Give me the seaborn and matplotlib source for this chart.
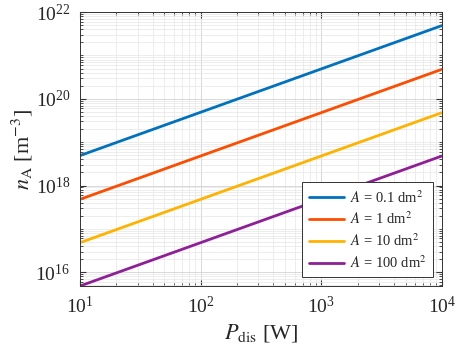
import numpy as np
import pandas as pd
import matplotlib
matplotlib.use('Agg')
import matplotlib.pyplot as plt
import seaborn as sns

# ------------------------------------------------------------ #
# data
# ------------------------------------------------------------ #

P_dis = [10, 100, 1000, 10000]
labels = ['$A$ = 0.1 dm$^2$', '$A$ = 1 dm$^2$', '$A$ = 10 dm$^2$', '$A$ = 100 dm$^2$']
n_A_01 = [4.9e18, 4.9e19, 4.9e20, 4.9e21]
n_A_1 = [4.8e17, 4.8e18, 4.8e19, 4.8e20]
n_A_10 = [4.8e16, 4.8e17, 4.8e18, 4.8e19]
n_A_100 = [4.8e15, 4.8e16, 4.8e17, 4.8e18]
colors = ['#0072BD', '#FF4D00', '#FFB300', '#8E1F96']
x_ticks = [1e1, 1e2, 1e3, 1e4]
y_ticks = [1e16, 1e18, 1e20, 1e22]

df = pd.concat([
    pd.DataFrame({'P': P_dis, 'n': vals, 'A': lab})
    for vals, lab in zip([n_A_01, n_A_1, n_A_10, n_A_100], labels)
])

# ------------------------------------------------------------ #
# plot
# ------------------------------------------------------------ #

sns.set_style('ticks')
plt.rcParams['font.family'] = ['Liberation Serif', 'DejaVu Serif']
plt.rcParams['mathtext.fontset'] = 'stix'

fig = plt.figure(figsize=(4.57, 3.52), dpi=100)
ax = fig.add_axes([0.175, 0.1875, 0.792, 0.778])

sns.lineplot(data=df, x='P', y='n', hue='A', palette=colors, linewidth=2, ax=ax)
ax.set_xscale('log')
ax.set_yscale('log')
ax.set_xlim(10, 1e4)
ax.set_ylim(4.8e15, 1e22)

fmt = matplotlib.ticker.LogFormatterSciNotation()
ax.xaxis.set_major_locator(matplotlib.ticker.FixedLocator(x_ticks))
ax.yaxis.set_major_locator(matplotlib.ticker.FixedLocator(y_ticks))
ax.xaxis.set_major_formatter(fmt)
ax.yaxis.set_major_formatter(matplotlib.ticker.LogFormatterSciNotation())
ax.yaxis.set_minor_locator(matplotlib.ticker.LogLocator(base=10, subs=np.arange(1, 10)))
ax.yaxis.set_minor_formatter(matplotlib.ticker.NullFormatter())
ax.xaxis.set_minor_formatter(matplotlib.ticker.NullFormatter())

ax.grid(True, which='major', color='#d2d2d2', linewidth=0.6)
ax.grid(True, which='minor', color='#e6e6e6', linewidth=0.5)
ax.set_axisbelow(True)

ax.tick_params(which='both', direction='in', top=True, right=True, color='#333333')
ax.tick_params(which='major', length=4, labelsize=14, pad=7)
ax.tick_params(which='minor', length=2)
for s in ax.spines.values():
    s.set_color('#333333')
    s.set_linewidth(0.7)

ax.set_xlabel(r'$P_{\rm dis}$ [W]', fontsize=16, labelpad=4)
ax.set_ylabel(r'$n_{\rm A}$ [m$^{-3}$]', fontsize=16, labelpad=0)

leg = ax.legend(loc='lower right', fontsize=10.5, frameon=True, fancybox=False,
                edgecolor='#333333', framealpha=1, handlelength=2.4,
                handletextpad=0.4, borderaxespad=0.6, labelspacing=0.35,
                borderpad=0.45)
leg.get_frame().set_linewidth(0.7)

plt.savefig('out.png', dpi=100)
